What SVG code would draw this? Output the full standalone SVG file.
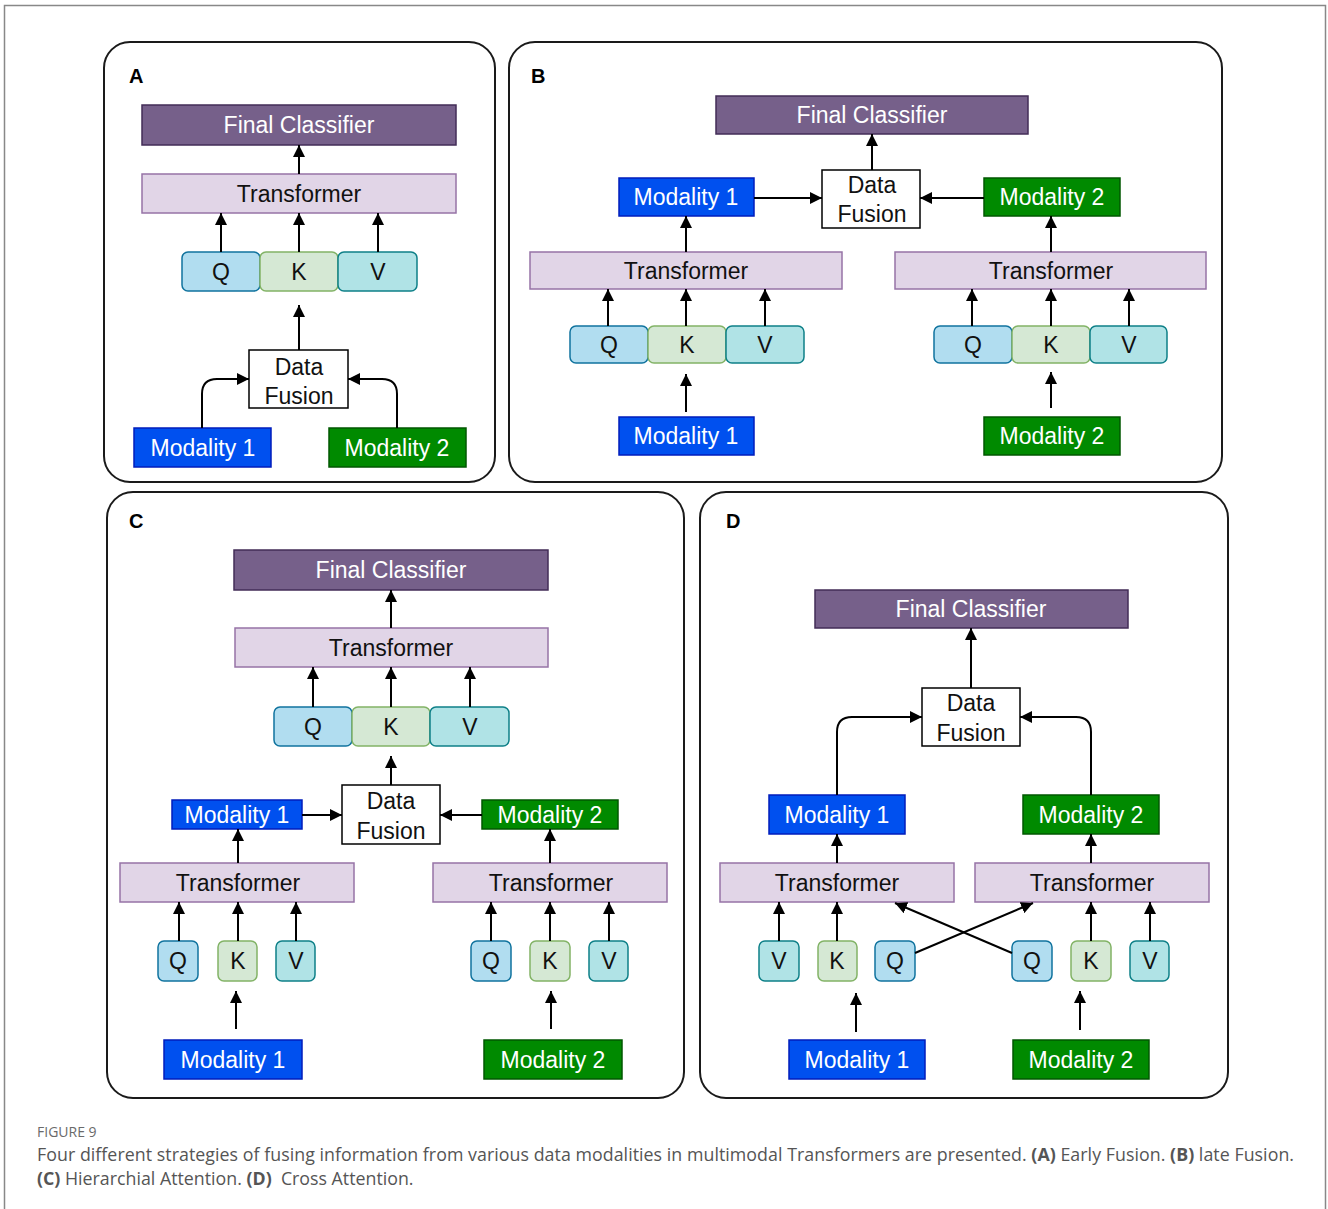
<svg xmlns="http://www.w3.org/2000/svg" width="1328" height="1209" viewBox="0 0 1328 1209">
<style>
text{font-family:"Liberation Sans",Arial,sans-serif;font-size:23px;text-anchor:middle}
.panel{fill:#fff;stroke:#1a1a1a;stroke-width:2}
.lbl{font-size:20px;font-weight:bold;text-anchor:start;fill:#000}
.fc{fill:#76608a;stroke:#432d57;stroke-width:1.5}
.fct{fill:#fff}
.tr{fill:#e1d5e7;stroke:#9673a6;stroke-width:1.5}
.q{fill:#b1ddf0;stroke:#10739e;stroke-width:1.5}
.k{fill:#d5e8d4;stroke:#82b366;stroke-width:1.5}
.v{fill:#b0e3e6;stroke:#0e8088;stroke-width:1.5}
.df{fill:#fff;stroke:#000;stroke-width:1.5}
.m1{fill:#0050ef;stroke:#001dbc;stroke-width:1.5}
.m2{fill:#008a00;stroke:#005700;stroke-width:1.5}
.wt{fill:#fff}
.bt{fill:#111}
.c{fill:none;stroke:#000;stroke-width:2;marker-end:url(#ah)}
.cap{font-family:"Open Sans","Noto Sans",sans-serif;text-anchor:start;fill:#555;font-size:17.8px}
</style>
<defs>
<marker id="ah" markerUnits="userSpaceOnUse" markerWidth="13" markerHeight="12" refX="12" refY="6" orient="auto">
<path d="M0,0 L12,6 L0,12 z" fill="#000"/>
</marker>
</defs>
<rect x="0" y="0" width="1328" height="1209" fill="#fff"/>
<path d="M4.5,1209 V5.5 H1325.5 V1209" fill="none" stroke="#888" stroke-width="1.5"/>

<!-- Panel A -->
<g id="panelA">
<rect class="panel" x="104" y="42" width="391" height="440" rx="26"/>
<text class="lbl" x="129" y="83">A</text>
<g id="A-fc"><rect class="fc" x="142" y="105" width="314" height="40"/><text class="fct" x="299" y="133">Final Classifier</text></g>
<g id="A-tr"><rect class="tr" x="142" y="174" width="314" height="39"/><text class="bt" x="299" y="202">Transformer</text></g>
<g id="A-q"><rect class="q" x="182" y="252" width="78" height="39" rx="6"/><text class="bt" x="221" y="280">Q</text></g>
<g id="A-k"><rect class="k" x="260" y="252" width="78" height="39" rx="6"/><text class="bt" x="299" y="280">K</text></g>
<g id="A-v"><rect class="v" x="338" y="252" width="79" height="39" rx="6"/><text class="bt" x="378" y="280">V</text></g>
<g id="A-df"><rect class="df" x="249" y="350" width="99" height="58"/><text class="bt" x="299" y="375">Data</text><text class="bt" x="299" y="404">Fusion</text></g>
<g id="A-m1"><rect class="m1" x="134" y="428" width="137" height="39"/><text class="wt" x="203" y="456">Modality 1</text></g>
<g id="A-m2"><rect class="m2" x="329" y="428" width="137" height="39"/><text class="wt" x="397" y="456">Modality 2</text></g>
</g>

<!-- Panel B -->
<g id="panelB">
<rect class="panel" x="509" y="42" width="713" height="440" rx="26"/>
<text class="lbl" x="531" y="83">B</text>
<g id="B-fc"><rect class="fc" x="716" y="96" width="312" height="38"/><text class="fct" x="872" y="123">Final Classifier</text></g>
<g id="B-df"><rect class="df" x="822" y="170" width="98" height="58"/><text class="bt" x="872" y="193">Data</text><text class="bt" x="872" y="222">Fusion</text></g>
<g id="B-m1u"><rect class="m1" x="619" y="178" width="135" height="38"/><text class="wt" x="686" y="205">Modality 1</text></g>
<g id="B-m2u"><rect class="m2" x="984" y="178" width="136" height="38"/><text class="wt" x="1052" y="205">Modality 2</text></g>
<g id="B-tr1"><rect class="tr" x="530" y="252" width="312" height="37"/><text class="bt" x="686" y="279">Transformer</text></g>
<g id="B-tr2"><rect class="tr" x="895" y="252" width="311" height="37"/><text class="bt" x="1051" y="279">Transformer</text></g>
<g id="B-q1"><rect class="q" x="570" y="326" width="78" height="37" rx="6"/><text class="bt" x="609" y="353">Q</text></g>
<g id="B-k1"><rect class="k" x="648" y="326" width="78" height="37" rx="6"/><text class="bt" x="687" y="353">K</text></g>
<g id="B-v1"><rect class="v" x="726" y="326" width="78" height="37" rx="6"/><text class="bt" x="765" y="353">V</text></g>
<g id="B-q2"><rect class="q" x="934" y="326" width="78" height="37" rx="6"/><text class="bt" x="973" y="353">Q</text></g>
<g id="B-k2"><rect class="k" x="1012" y="326" width="78" height="37" rx="6"/><text class="bt" x="1051" y="353">K</text></g>
<g id="B-v2"><rect class="v" x="1090" y="326" width="77" height="37" rx="6"/><text class="bt" x="1129" y="353">V</text></g>
<g id="B-m1"><rect class="m1" x="619" y="417" width="135" height="38"/><text class="wt" x="686" y="444">Modality 1</text></g>
<g id="B-m2"><rect class="m2" x="984" y="417" width="136" height="38"/><text class="wt" x="1052" y="444">Modality 2</text></g>
</g>

<!-- Panel C -->
<g id="panelC">
<rect class="panel" x="107" y="492" width="577" height="606" rx="26"/>
<text class="lbl" x="129" y="528">C</text>
<g id="C-fc"><rect class="fc" x="234" y="550" width="314" height="40"/><text class="fct" x="391" y="578">Final Classifier</text></g>
<g id="C-tr"><rect class="tr" x="235" y="628" width="313" height="39"/><text class="bt" x="391" y="656">Transformer</text></g>
<g id="C-q"><rect class="q" x="274" y="707" width="78" height="39" rx="6"/><text class="bt" x="313" y="735">Q</text></g>
<g id="C-k"><rect class="k" x="352" y="707" width="78" height="39" rx="6"/><text class="bt" x="391" y="735">K</text></g>
<g id="C-v"><rect class="v" x="430" y="707" width="79" height="39" rx="6"/><text class="bt" x="470" y="735">V</text></g>
<g id="C-df"><rect class="df" x="342" y="785" width="98" height="59"/><text class="bt" x="391" y="809">Data</text><text class="bt" x="391" y="839">Fusion</text></g>
<g id="C-m1u"><rect class="m1" x="172" y="800" width="130" height="29"/><text class="wt" x="237" y="823">Modality 1</text></g>
<g id="C-m2u"><rect class="m2" x="482" y="800" width="136" height="29"/><text class="wt" x="550" y="823">Modality 2</text></g>
<g id="C-tr1"><rect class="tr" x="120" y="863" width="234" height="39"/><text class="bt" x="238" y="891">Transformer</text></g>
<g id="C-tr2"><rect class="tr" x="433" y="863" width="234" height="39"/><text class="bt" x="551" y="891">Transformer</text></g>
<g id="C-q1"><rect class="q" x="158" y="941" width="40" height="40" rx="6"/><text class="bt" x="178" y="969">Q</text></g>
<g id="C-k1"><rect class="k" x="218" y="941" width="39" height="40" rx="6"/><text class="bt" x="238" y="969">K</text></g>
<g id="C-v1"><rect class="v" x="276" y="941" width="39" height="40" rx="6"/><text class="bt" x="296" y="969">V</text></g>
<g id="C-q2"><rect class="q" x="471" y="941" width="40" height="40" rx="6"/><text class="bt" x="491" y="969">Q</text></g>
<g id="C-k2"><rect class="k" x="530" y="941" width="40" height="40" rx="6"/><text class="bt" x="550" y="969">K</text></g>
<g id="C-v2"><rect class="v" x="589" y="941" width="39" height="40" rx="6"/><text class="bt" x="609" y="969">V</text></g>
<g id="C-m1"><rect class="m1" x="164" y="1040" width="138" height="39"/><text class="wt" x="233" y="1068">Modality 1</text></g>
<g id="C-m2"><rect class="m2" x="484" y="1040" width="138" height="39"/><text class="wt" x="553" y="1068">Modality 2</text></g>
</g>

<!-- Panel D -->
<g id="panelD">
<rect class="panel" x="700" y="492" width="528" height="606" rx="26"/>
<text class="lbl" x="726" y="528">D</text>
<g id="D-fc"><rect class="fc" x="815" y="590" width="313" height="38"/><text class="fct" x="971" y="617">Final Classifier</text></g>
<g id="D-df"><rect class="df" x="922" y="688" width="98" height="58"/><text class="bt" x="971" y="711">Data</text><text class="bt" x="971" y="741">Fusion</text></g>
<g id="D-m1u"><rect class="m1" x="769" y="795" width="136" height="39"/><text class="wt" x="837" y="823">Modality 1</text></g>
<g id="D-m2u"><rect class="m2" x="1023" y="795" width="136" height="39"/><text class="wt" x="1091" y="823">Modality 2</text></g>
<g id="D-tr1"><rect class="tr" x="720" y="863" width="234" height="39"/><text class="bt" x="837" y="891">Transformer</text></g>
<g id="D-tr2"><rect class="tr" x="975" y="863" width="234" height="39"/><text class="bt" x="1092" y="891">Transformer</text></g>
<g id="D-v1"><rect class="v" x="759" y="941" width="40" height="40" rx="6"/><text class="bt" x="779" y="969">V</text></g>
<g id="D-k1"><rect class="k" x="818" y="941" width="39" height="40" rx="6"/><text class="bt" x="837" y="969">K</text></g>
<g id="D-q1"><rect class="q" x="875" y="941" width="40" height="40" rx="6"/><text class="bt" x="895" y="969">Q</text></g>
<g id="D-q2"><rect class="q" x="1012" y="941" width="40" height="40" rx="6"/><text class="bt" x="1032" y="969">Q</text></g>
<g id="D-k2"><rect class="k" x="1071" y="941" width="40" height="40" rx="6"/><text class="bt" x="1091" y="969">K</text></g>
<g id="D-v2"><rect class="v" x="1130" y="941" width="39" height="40" rx="6"/><text class="bt" x="1150" y="969">V</text></g>
<g id="D-m1"><rect class="m1" x="789" y="1040" width="136" height="39"/><text class="wt" x="857" y="1068">Modality 1</text></g>
<g id="D-m2"><rect class="m2" x="1013" y="1040" width="136" height="39"/><text class="wt" x="1081" y="1068">Modality 2</text></g>
</g>

<g id="connectors">
<!-- A -->
<path class="c" d="M299,174 V145"/>
<path class="c" d="M221,252 V213"/>
<path class="c" d="M299,252 V213"/>
<path class="c" d="M378,252 V213"/>
<path class="c" d="M299,350 V305"/>
<path class="c" d="M202,428 V394 Q202,379 217,379 H249"/>
<path class="c" d="M397,428 V394 Q397,379 382,379 H348"/>
<!-- B -->
<path class="c" d="M872,170 V134"/>
<path class="c" d="M754,198 H822"/>
<path class="c" d="M984,198 H920"/>
<path class="c" d="M686,252 V216"/>
<path class="c" d="M1051,252 V216"/>
<path class="c" d="M608,326 V289"/>
<path class="c" d="M686,326 V289"/>
<path class="c" d="M765,326 V289"/>
<path class="c" d="M972,326 V289"/>
<path class="c" d="M1051,326 V289"/>
<path class="c" d="M1129,326 V289"/>
<path class="c" d="M686,412 V374"/>
<path class="c" d="M1051,408 V372"/>
<!-- C -->
<path class="c" d="M391,628 V590"/>
<path class="c" d="M313,707 V667"/>
<path class="c" d="M391,707 V667"/>
<path class="c" d="M470,707 V667"/>
<path class="c" d="M391,785 V756"/>
<path class="c" d="M302,815 H342"/>
<path class="c" d="M482,815 H440"/>
<path class="c" d="M238,863 V829"/>
<path class="c" d="M550,863 V829"/>
<path class="c" d="M179,941 V902"/>
<path class="c" d="M238,941 V902"/>
<path class="c" d="M296,941 V902"/>
<path class="c" d="M491,941 V902"/>
<path class="c" d="M550,941 V902"/>
<path class="c" d="M609,941 V902"/>
<path class="c" d="M236,1029 V991"/>
<path class="c" d="M551,1029 V991"/>
<!-- D -->
<path class="c" d="M971,688 V628"/>
<path class="c" d="M837,795 V732 Q837,717 852,717 H922"/>
<path class="c" d="M1091,795 V732 Q1091,717 1076,717 H1020"/>
<path class="c" d="M837,863 V834"/>
<path class="c" d="M1091,863 V834"/>
<path class="c" d="M779,941 V902"/>
<path class="c" d="M837,941 V902"/>
<path class="c" d="M1091,941 V902"/>
<path class="c" d="M1150,941 V902"/>
<path class="c" d="M915,953 L1033,903"/>
<path class="c" d="M1012,953 L895,903"/>
<path class="c" d="M856,1032 V993"/>
<path class="c" d="M1080,1030 V991"/>
</g>

<text class="cap" x="37" y="1137" style="font-size:14px;fill:#6a6a6a">FIGURE 9</text>
<text class="cap" x="37" y="1161" textLength="1257" lengthAdjust="spacing">Four different strategies of fusing information from various data modalities in multimodal Transformers are presented. <tspan font-weight="bold">(A)</tspan> Early Fusion. <tspan font-weight="bold">(B)</tspan> late Fusion.</text>
<text class="cap" x="37" y="1185" xml:space="preserve"><tspan font-weight="bold">(C)</tspan> Hierarchial Attention. <tspan font-weight="bold">(D)</tspan>  Cross Attention.</text>
</svg>
